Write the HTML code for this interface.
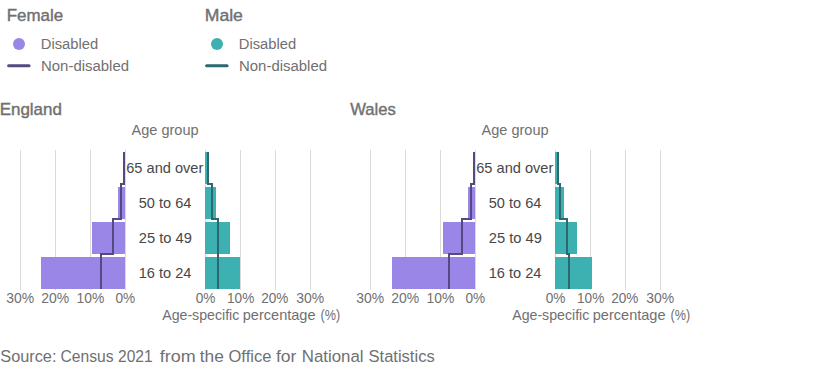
<!DOCTYPE html>
<html><head><meta charset="utf-8"><style>
html,body{margin:0;padding:0;background:#fff;width:840px;height:376px;overflow:hidden}
svg{display:block}
</style></head><body>
<svg width="840" height="376" viewBox="0 0 840 376" font-family="Liberation Sans, sans-serif">
<circle cx="19" cy="44" r="6" fill="#9a86e6"/>
<path d="M8.6,65.8H29.1" stroke="#554a80" stroke-width="3" stroke-linecap="round"/>
<circle cx="217" cy="44" r="6" fill="#3db1b2"/>
<path d="M206.6,65.8H227.1" stroke="#2b6870" stroke-width="3" stroke-linecap="round"/>
<rect x="20" y="150" width="1" height="140" fill="#dadada"/>
<rect x="55" y="150" width="1" height="140" fill="#dadada"/>
<rect x="90" y="150" width="1" height="140" fill="#dadada"/>
<rect x="125" y="150" width="1" height="140" fill="#dadada"/>
<rect x="205" y="150" width="1" height="140" fill="#dadada"/>
<rect x="240" y="150" width="1" height="140" fill="#dadada"/>
<rect x="275" y="150" width="1" height="140" fill="#dadada"/>
<rect x="310" y="150" width="1" height="140" fill="#dadada"/>
<rect x="123" y="152" width="2" height="32" fill="#9a86e6"/>
<rect x="118" y="187" width="7" height="32" fill="#9a86e6"/>
<rect x="92" y="222" width="33" height="32" fill="#9a86e6"/>
<rect x="41" y="257" width="84" height="32" fill="#9a86e6"/>
<rect x="205" y="152" width="2" height="32" fill="#3db1b2"/>
<rect x="205" y="187" width="11" height="32" fill="#3db1b2"/>
<rect x="205" y="222" width="25" height="32" fill="#3db1b2"/>
<rect x="205" y="257" width="35" height="32" fill="#3db1b2"/>
<path d="M124,152V184H121V219H113V254H101V289" fill="none" stroke="#554a80" stroke-width="2"/>
<path d="M208,152V184H212V219H218V254H218V289" fill="none" stroke="#2b6870" stroke-width="2"/>
<rect x="370" y="150" width="1" height="140" fill="#dadada"/>
<rect x="405" y="150" width="1" height="140" fill="#dadada"/>
<rect x="440" y="150" width="1" height="140" fill="#dadada"/>
<rect x="475" y="150" width="1" height="140" fill="#dadada"/>
<rect x="555" y="150" width="1" height="140" fill="#dadada"/>
<rect x="590" y="150" width="1" height="140" fill="#dadada"/>
<rect x="625" y="150" width="1" height="140" fill="#dadada"/>
<rect x="660" y="150" width="1" height="140" fill="#dadada"/>
<rect x="473" y="152" width="2" height="32" fill="#9a86e6"/>
<rect x="468" y="187" width="7" height="32" fill="#9a86e6"/>
<rect x="443" y="222" width="32" height="32" fill="#9a86e6"/>
<rect x="392" y="257" width="83" height="32" fill="#9a86e6"/>
<rect x="555" y="152" width="2" height="32" fill="#3db1b2"/>
<rect x="555" y="187" width="9" height="32" fill="#3db1b2"/>
<rect x="555" y="222" width="22" height="32" fill="#3db1b2"/>
<rect x="555" y="257" width="37" height="32" fill="#3db1b2"/>
<path d="M474,152V184H471V219H462V254H449V289" fill="none" stroke="#554a80" stroke-width="2"/>
<path d="M558,152V184H560V219H567V254H569V289" fill="none" stroke="#2b6870" stroke-width="2"/>
<text x="6.70" y="21.00" font-size="16.7" fill="#707071" stroke="#707071" stroke-width="0.4" textLength="56.45" lengthAdjust="spacingAndGlyphs">Female</text>
<text x="204.75" y="20.80" font-size="16.7" fill="#707071" stroke="#707071" stroke-width="0.4" textLength="38.17" lengthAdjust="spacingAndGlyphs">Male</text>
<text x="40.75" y="49.00" font-size="14.7" fill="#707071" textLength="57.41" lengthAdjust="spacingAndGlyphs">Disabled</text>
<text x="41.00" y="70.80" font-size="14.7" fill="#707071" textLength="88.06" lengthAdjust="spacingAndGlyphs">Non-disabled</text>
<text x="238.75" y="49.00" font-size="14.7" fill="#707071" textLength="57.41" lengthAdjust="spacingAndGlyphs">Disabled</text>
<text x="239.00" y="70.80" font-size="14.7" fill="#707071" textLength="88.06" lengthAdjust="spacingAndGlyphs">Non-disabled</text>
<text x="-0.35" y="114.80" font-size="16.7" fill="#707071" stroke="#707071" stroke-width="0.4" textLength="62.28" lengthAdjust="spacingAndGlyphs">England</text>
<text x="350.25" y="114.80" font-size="16.7" fill="#707071" stroke="#707071" stroke-width="0.4" textLength="45.55" lengthAdjust="spacingAndGlyphs">Wales</text>
<text x="0.25" y="361.80" font-size="16.9" fill="#707071" textLength="56.22" lengthAdjust="spacingAndGlyphs">Source:</text>
<text x="60.50" y="361.80" font-size="16.9" fill="#707071" textLength="53.18" lengthAdjust="spacingAndGlyphs">Census</text>
<text x="118.00" y="361.80" font-size="16.9" fill="#707071" textLength="34.68" lengthAdjust="spacingAndGlyphs">2021</text>
<text x="159.75" y="361.80" font-size="16.9" fill="#707071" textLength="35.90" lengthAdjust="spacingAndGlyphs">from</text>
<text x="199.75" y="361.80" font-size="16.9" fill="#707071" textLength="24.13" lengthAdjust="spacingAndGlyphs">the</text>
<text x="228.50" y="361.80" font-size="16.9" fill="#707071" textLength="42.86" lengthAdjust="spacingAndGlyphs">Office</text>
<text x="276.00" y="361.80" font-size="16.9" fill="#707071" textLength="20.47" lengthAdjust="spacingAndGlyphs">for</text>
<text x="301.75" y="361.80" font-size="16.9" fill="#707071" textLength="61.83" lengthAdjust="spacingAndGlyphs">National</text>
<text x="368.50" y="361.80" font-size="16.9" fill="#707071" textLength="66.19" lengthAdjust="spacingAndGlyphs">Statistics</text>
<text x="131.50" y="134.90" font-size="14.5" fill="#707071" textLength="67.07" lengthAdjust="spacingAndGlyphs">Age group</text>
<text x="126.25" y="172.90" font-size="14.3" fill="#474749" textLength="77.07" lengthAdjust="spacingAndGlyphs">65 and over</text>
<text x="138.75" y="208.10" font-size="14.3" fill="#474749" textLength="52.59" lengthAdjust="spacingAndGlyphs">50 to 64</text>
<text x="138.75" y="243.10" font-size="14.3" fill="#474749" textLength="53.09" lengthAdjust="spacingAndGlyphs">25 to 49</text>
<text x="138.75" y="277.90" font-size="14.3" fill="#474749" textLength="52.69" lengthAdjust="spacingAndGlyphs">16 to 24</text>
<text x="6.25" y="302.90" font-size="14.5" fill="#707071" textLength="27.88" lengthAdjust="spacingAndGlyphs">30%</text>
<text x="41.25" y="302.90" font-size="14.5" fill="#707071" textLength="27.93" lengthAdjust="spacingAndGlyphs">20%</text>
<text x="76.50" y="302.90" font-size="14.5" fill="#707071" textLength="27.78" lengthAdjust="spacingAndGlyphs">10%</text>
<text x="115.50" y="302.90" font-size="14.5" fill="#707071" textLength="19.72" lengthAdjust="spacingAndGlyphs">0%</text>
<text x="195.75" y="302.90" font-size="14.5" fill="#707071" textLength="19.72" lengthAdjust="spacingAndGlyphs">0%</text>
<text x="227.00" y="302.90" font-size="14.5" fill="#707071" textLength="27.28" lengthAdjust="spacingAndGlyphs">10%</text>
<text x="261.25" y="302.90" font-size="14.5" fill="#707071" textLength="27.18" lengthAdjust="spacingAndGlyphs">20%</text>
<text x="296.25" y="302.90" font-size="14.5" fill="#707071" textLength="27.93" lengthAdjust="spacingAndGlyphs">30%</text>
<text x="162.25" y="319.80" font-size="14.5" fill="#707071" textLength="77.03" lengthAdjust="spacingAndGlyphs">Age-specific</text>
<text x="242.75" y="319.80" font-size="14.5" fill="#707071" textLength="72.81" lengthAdjust="spacingAndGlyphs">percentage</text>
<text x="320.50" y="319.80" font-size="14.5" fill="#707071" textLength="19.66" lengthAdjust="spacingAndGlyphs">(%)</text>
<text x="481.50" y="134.90" font-size="14.5" fill="#707071" textLength="67.07" lengthAdjust="spacingAndGlyphs">Age group</text>
<text x="476.25" y="172.90" font-size="14.3" fill="#474749" textLength="77.07" lengthAdjust="spacingAndGlyphs">65 and over</text>
<text x="488.75" y="208.10" font-size="14.3" fill="#474749" textLength="52.59" lengthAdjust="spacingAndGlyphs">50 to 64</text>
<text x="488.75" y="243.10" font-size="14.3" fill="#474749" textLength="53.09" lengthAdjust="spacingAndGlyphs">25 to 49</text>
<text x="488.75" y="277.90" font-size="14.3" fill="#474749" textLength="52.69" lengthAdjust="spacingAndGlyphs">16 to 24</text>
<text x="356.25" y="302.90" font-size="14.5" fill="#707071" textLength="27.88" lengthAdjust="spacingAndGlyphs">30%</text>
<text x="391.25" y="302.90" font-size="14.5" fill="#707071" textLength="27.93" lengthAdjust="spacingAndGlyphs">20%</text>
<text x="426.50" y="302.90" font-size="14.5" fill="#707071" textLength="27.78" lengthAdjust="spacingAndGlyphs">10%</text>
<text x="465.50" y="302.90" font-size="14.5" fill="#707071" textLength="19.72" lengthAdjust="spacingAndGlyphs">0%</text>
<text x="545.75" y="302.90" font-size="14.5" fill="#707071" textLength="19.72" lengthAdjust="spacingAndGlyphs">0%</text>
<text x="577.00" y="302.90" font-size="14.5" fill="#707071" textLength="27.28" lengthAdjust="spacingAndGlyphs">10%</text>
<text x="611.25" y="302.90" font-size="14.5" fill="#707071" textLength="27.18" lengthAdjust="spacingAndGlyphs">20%</text>
<text x="646.25" y="302.90" font-size="14.5" fill="#707071" textLength="27.93" lengthAdjust="spacingAndGlyphs">30%</text>
<text x="512.25" y="319.80" font-size="14.5" fill="#707071" textLength="77.03" lengthAdjust="spacingAndGlyphs">Age-specific</text>
<text x="592.75" y="319.80" font-size="14.5" fill="#707071" textLength="72.81" lengthAdjust="spacingAndGlyphs">percentage</text>
<text x="670.50" y="319.80" font-size="14.5" fill="#707071" textLength="19.66" lengthAdjust="spacingAndGlyphs">(%)</text>
</svg>
</body></html>
